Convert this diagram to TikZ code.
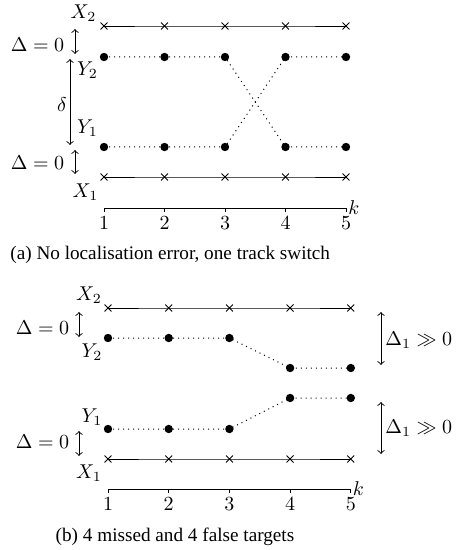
\documentclass[tikz,border=0pt]{standalone}
\usepackage{fontspec}
\setmainfont{Liberation Serif}
\usetikzlibrary{shapes.misc}
\begin{document}
\begin{tikzpicture}[x=0.5pt,y=-0.5pt,
  lbl/.style={font=\fontsize{10.3}{12}\selectfont, inner sep=0pt},
  captxt/.style={font=\fontsize{9.6}{11}\selectfont, inner sep=0pt},
  trk/.style={line width=0.45pt},
  est/.style={line width=0.5pt, dotted},
  ptx/.style={cross out, draw, line width=0.45pt, inner sep=0pt, minimum size=3pt},
  pty/.style={circle, fill, inner sep=0pt, minimum size=4.2pt},
  arr/.style={<->, line width=0.45pt},
  axisline/.style={line width=0.45pt}]
\useasboundingbox (0,0) rectangle (456,550);

% ---------------- panel (a) ----------------
\foreach \i/\x in {1/104,2/164.5,3/225,4/285.5,5/346}{
  \coordinate (ax2\i) at (\x,26);
  \coordinate (ax1\i) at (\x,177);
  \coordinate (at\i) at (\x,208);
}
\coordinate (ay21) at (104,57);   \coordinate (ay22) at (164.5,57);
\coordinate (ay23) at (225,57);   \coordinate (ay24) at (285.5,147);
\coordinate (ay25) at (346,147);
\coordinate (ay11) at (104,147);  \coordinate (ay12) at (164.5,147);
\coordinate (ay13) at (225,147);  \coordinate (ay14) at (285.5,57);
\coordinate (ay15) at (346,57);

\draw[trk] (ax21) -- (ax22) -- (ax23) -- (ax24) -- (ax25);
\draw[trk] (ax11) -- (ax12) -- (ax13) -- (ax14) -- (ax15);
\draw[est] (ay21) -- (ay22) -- (ay23) -- (ay24) -- (ay25);
\draw[est] (ay11) -- (ay12) -- (ay13) -- (ay14) -- (ay15);
\foreach \i in {1,...,5}{
  \node[ptx] at (ax2\i) {};
  \node[ptx] at (ax1\i) {};
  \node[pty] at (ay2\i) {};
  \node[pty] at (ay1\i) {};
}

\node[lbl] (aX2) at (83.5,13) {$X_2$};
\node[lbl] (aY2) at (87.5,70) {$Y_2$};
\node[lbl] (aY1) at (87.5,128) {$Y_1$};
\node[lbl] (aX1) at (85.5,192) {$X_1$};
\node[lbl] (aD2) at (37.5,44.5) {$\Delta=0$};
\node[lbl] (aD1) at (37.5,163) {$\Delta=0$};
\coordinate (aa2t) at (75,29);  \coordinate (aa2b) at (75,54);
\coordinate (aa1t) at (75,150); \coordinate (aa1b) at (75,174);
\draw[arr] (aa2t) -- (aa2b);
\draw[arr] (aa1t) -- (aa1b);
\coordinate (adt) at (70,59); \coordinate (adb) at (70,145);
\draw[arr] (adt) -- (adb);
\node[lbl] (adl) at (62,105) {$\delta$};

% axis (a)
\draw[axisline] (at1) -- (at5);
\foreach \i in {1,...,5}{
  \draw[axisline] (at\i) -- ++(0,4);
  \node[lbl] (atl\i) at ([yshift=-7.5pt]at\i) {$\i$};
}
\node[lbl, anchor=west] (ak) at (348,208) {$k$};
\node[captxt, anchor=west] (capa) at (10,255) {(a) No localisation error, one track switch};

% ---------------- panel (b) ----------------
\foreach \i/\x in {1/108,2/168.7,3/229.4,4/290.1,5/350.8}{
  \coordinate (bx2\i) at (\x,308);
  \coordinate (bx1\i) at (\x,459);
  \coordinate (bt\i) at (\x,489);
}
\coordinate (by21) at (108,338);   \coordinate (by22) at (168.7,338);
\coordinate (by23) at (229.4,338); \coordinate (by24) at (290.1,368);
\coordinate (by25) at (350.8,368);
\coordinate (by11) at (108,429);   \coordinate (by12) at (168.7,429);
\coordinate (by13) at (229.4,429); \coordinate (by14) at (290.1,398);
\coordinate (by15) at (350.8,398);

\draw[trk] (bx21) -- (bx22) -- (bx23) -- (bx24) -- (bx25);
\draw[trk] (bx11) -- (bx12) -- (bx13) -- (bx14) -- (bx15);
\draw[est] (by21) -- (by22) -- (by23) -- (by24) -- (by25);
\draw[est] (by11) -- (by12) -- (by13) -- (by14) -- (by15);
\foreach \i in {1,...,5}{
  \node[ptx] at (bx2\i) {};
  \node[ptx] at (bx1\i) {};
  \node[pty] at (by2\i) {};
  \node[pty] at (by1\i) {};
}

\node[lbl] (bX2) at (89,295) {$X_2$};
\node[lbl] (bY2) at (92,352) {$Y_2$};
\node[lbl] (bY1) at (92,417) {$Y_1$};
\node[lbl] (bX1) at (89,473) {$X_1$};
\node[lbl] (bD2) at (42.5,328) {$\Delta=0$};
\node[lbl] (bD1) at (42.5,442) {$\Delta=0$};
\coordinate (ba2t) at (79,312); \coordinate (ba2b) at (79,337);
\coordinate (ba1t) at (79,431); \coordinate (ba1b) at (79,456);
\draw[arr] (ba2t) -- (ba2b);
\draw[arr] (ba1t) -- (ba1b);

\coordinate (br2t) at (381,312); \coordinate (br2b) at (381,365);
\coordinate (br1t) at (381,402); \coordinate (br1b) at (381,454);
\draw[arr] (br2t) -- (br2b);
\draw[arr] (br1t) -- (br1b);
\node[lbl, anchor=west] (bl2) at (385,340) {$\Delta_1\gg 0$};
\node[lbl, anchor=west] (bl1) at (385,428) {$\Delta_1\gg 0$};

% axis (b)
\draw[axisline] (bt1) -- (bt5);
\foreach \i in {1,...,5}{
  \draw[axisline] (bt\i) -- ++(0,4);
  \node[lbl] (btl\i) at ([yshift=-7.5pt]bt\i) {$\i$};
}
\node[lbl, anchor=west] (bk) at (352.5,489) {$k$};
\node[captxt] (capb) at (175,537) {(b) 4 missed and 4 false targets};
\end{tikzpicture}
\end{document}
